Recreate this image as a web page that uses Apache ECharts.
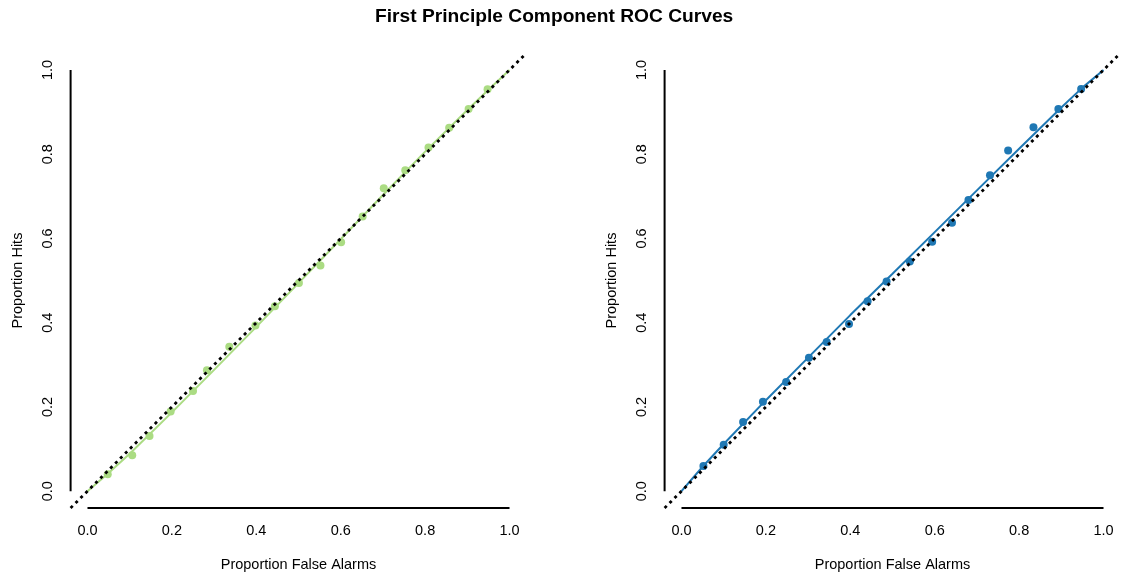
<!DOCTYPE html>
<html>
<head>
<meta charset="utf-8">
<script src="https://cdn.jsdelivr.net/npm/echarts@6/dist/echarts.min.js"></script>
<style>
  html, body { margin: 0; padding: 0; background: #fff; }
  #chart { width: 1122px; height: 577px; }
</style>
</head>
<body>
<div id="chart"></div>
<script>
// ---- Data ----
const tickValues = [0, 0.2, 0.4, 0.6, 0.8, 1.0];

const leftFalseAlarms = [0.048, 0.106, 0.147, 0.197, 0.250, 0.283, 0.336, 0.398, 0.444, 0.501,
                         0.552, 0.601, 0.652, 0.702, 0.753, 0.808, 0.857, 0.903, 0.948];
const leftHits        = [0.040, 0.085, 0.131, 0.189, 0.238, 0.287, 0.343, 0.393, 0.439, 0.494,
                         0.536, 0.591, 0.652, 0.719, 0.762, 0.816, 0.863, 0.907, 0.954];

const rightFalseAlarms = [0.052, 0.100, 0.146, 0.193, 0.248, 0.302, 0.344, 0.397, 0.441, 0.486,
                          0.541, 0.594, 0.641, 0.680, 0.731, 0.774, 0.834, 0.893, 0.947];
const rightHits        = [0.060, 0.110, 0.164, 0.212, 0.259, 0.317, 0.354, 0.397, 0.451, 0.498,
                          0.545, 0.592, 0.637, 0.691, 0.750, 0.809, 0.864, 0.907, 0.955];

const fitFalseAlarms = [0, 0.05, 0.1, 0.2, 0.3, 0.4, 0.5, 0.6, 0.7, 0.8, 0.9, 0.95, 1];
const leftFitHits    = [0, 0.043, 0.089, 0.187, 0.288, 0.390, 0.494, 0.598, 0.703, 0.806, 0.905, 0.953, 1];
const rightFitHits   = [0, 0.058, 0.112, 0.216, 0.317, 0.418, 0.516, 0.615, 0.714, 0.813, 0.911, 0.958, 1];

const titleText = 'First Principle Component ROC Curves';
const xTitle = 'Proportion False Alarms';
const yTitle = 'Proportion Hits';

// plotting region extends 4% beyond the data range (R style)
const lo = -0.04, hi = 1.04;

const zip = (a, b) => a.map((v, i) => [v, b[i]]);
const FONT = '"Liberation Sans", Arial, Helvetica, sans-serif';
const green = '#ABDC83';
const blue = '#1F78B4';

const chart = echarts.init(document.getElementById('chart'), null, { renderer: 'canvas' });

function xAxisDef(gridIndex) {
  return {
    gridIndex, type: 'value', min: lo, max: hi,
    axisLine: { show: false }, axisTick: { show: false }, splitLine: { show: false },
    axisLabel: {
      customValues: tickValues, formatter: v => v.toFixed(1),
      fontFamily: FONT, fontSize: 14.5, color: '#000', margin: 15
    },
    name: xTitle, nameLocation: 'middle', nameGap: 49,
    nameTextStyle: { fontFamily: FONT, fontSize: 14.5, color: '#000' }
  };
}
function yAxisDef(gridIndex) {
  return {
    gridIndex, type: 'value', min: lo, max: hi,
    axisLine: { show: false }, axisTick: { show: false }, splitLine: { show: false },
    axisLabel: {
      customValues: tickValues, formatter: v => v.toFixed(1), rotate: 90,
      fontFamily: FONT, fontSize: 14.5, color: '#000', margin: 15
    },
    name: yTitle, nameLocation: 'middle', nameGap: 45, nameRotate: 90,
    nameTextStyle: { fontFamily: FONT, fontSize: 14.5, color: '#000' }
  };
}

function panelSeries(idx, fa, hits, fitY, color) {
  const base = { xAxisIndex: idx, yAxisIndex: idx, silent: true, animation: false };
  return [
    // axis lines spanning 0..1 at the edge of the plotting region
    Object.assign({}, base, {
      type: 'line', clip: false, symbol: 'none',
      data: [[tickValues[0], lo], [tickValues[tickValues.length - 1], lo]],
      lineStyle: { color: '#000', width: 2 }
    }),
    Object.assign({}, base, {
      type: 'line', clip: false, symbol: 'none',
      data: [[lo, tickValues[0]], [lo, tickValues[tickValues.length - 1]]],
      lineStyle: { color: '#000', width: 2 }
    }),
    // fitted ROC curve
    Object.assign({}, base, {
      type: 'line', symbol: 'none', clip: false,
      data: zip(fitFalseAlarms, fitY),
      lineStyle: { color: color, width: 2 }, z: 3
    }),
    // observed points
    Object.assign({}, base, {
      type: 'scatter', symbol: 'circle', symbolSize: 8,
      data: zip(fa, hits),
      itemStyle: { color: color, opacity: 1 }, z: 4
    }),
    // chance diagonal
    Object.assign({}, base, {
      type: 'line', symbol: 'none', clip: false,
      data: [[lo, lo], [hi, hi]],
      lineStyle: { color: '#000', width: 2.8, type: [3, 4], cap: 'butt' }, z: 5
    })
  ];
}

const option = {
  backgroundColor: '#fff',
  animation: false,
  grid: [
    { left: 70.6, top: 53.1, width: 455.8, height: 456.3 },
    { left: 664.6, top: 53.1, width: 455.8, height: 456.3 }
  ],
  xAxis: [xAxisDef(0), xAxisDef(1)],
  yAxis: [yAxisDef(0), yAxisDef(1)],
  graphic: [{
    type: 'text', left: 375, top: 7,
    style: { text: titleText, fontFamily: FONT, fontSize: 19.2, fontWeight: 'bold', fill: '#000' }
  }],
  series: [].concat(
    panelSeries(0, leftFalseAlarms, leftHits, leftFitHits, green),
    panelSeries(1, rightFalseAlarms, rightHits, rightFitHits, blue)
  )
};
chart.setOption(option);
</script>
</body>
</html>
